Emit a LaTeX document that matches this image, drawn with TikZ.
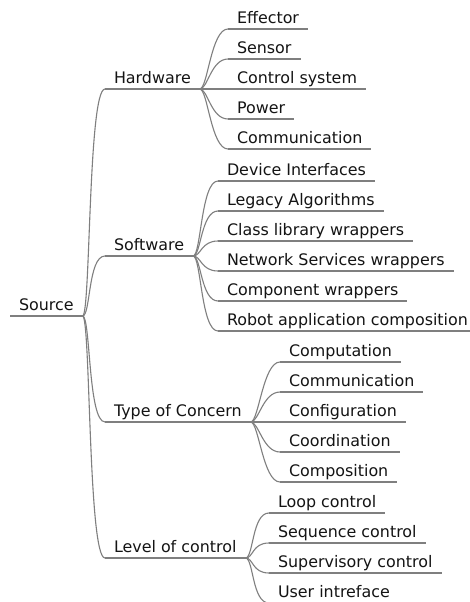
\documentclass[tikz,border=0pt]{standalone}
\usepackage{fontspec}
\setmainfont{DejaVu Sans}
\definecolor{linkgray}{HTML}{7F7F7F}
\definecolor{textdark}{HTML}{141414}
\begin{document}
\begin{tikzpicture}[x=1pt, y=-1pt,
  item/.style={anchor=south west, inner xsep=9pt, inner ysep=0pt, outer sep=0pt,
    text depth=5.5pt, text=textdark, font=\fontsize{15.9}{18}\selectfont},
  link/.style={draw=linkgray, line width=1.1pt},
]
\fill[white] (0,0) rectangle (470,602);
\useasboundingbox (0,0) rectangle (470,602);

% root
\node[item] (src) at (10,316) {Source};

% first level
\node[item] (hw)  at (105,89)  {Hardware};
\node[item] (sw)  at (105,256) {Software};
\node[item] (toc) at (105,422) {Type of Concern};
\node[item] (loc) at (105,558) {Level of control};

% hardware
\node[item] (h1) at (228,29)  {Effector};
\node[item] (h2) at (228,59)  {Sensor};
\node[item] (h3) at (228,89)  {Control system};
\node[item] (h4) at (228,119) {Power};
\node[item] (h5) at (228,149) {Communication};

% software
\node[item] (s1) at (218,181) {Device Interfaces};
\node[item] (s2) at (218,211) {Legacy Algorithms};
\node[item] (s3) at (218,241) {Class library wrappers};
\node[item] (s4) at (218,271) {Network Services wrappers};
\node[item] (s5) at (218,301) {Component wrappers};
\node[item] (s6) at (218,331) {Robot application composition};

% type of concern
\node[item] (t1) at (280,362) {Computation};
\node[item] (t2) at (280,392) {Communication};
\node[item] (t3) at (280,422) {Configuration};
\node[item] (t4) at (280,452) {Coordination};
\node[item] (t5) at (280,482) {Composition};

% level of control
\node[item] (l1) at (269,513) {Loop control};
\node[item] (l2) at (269,543) {Sequence control};
\node[item] (l3) at (269,573) {Supervisory control};
\node[item] (l4) at (269,603) {User intreface};

% underlines
\foreach \n in {src,hw,sw,toc,loc,h1,h2,h3,h4,h5,s1,s2,s3,s4,s5,s6,t1,t2,t3,t4,t5,l1,l2,l3,l4}
  \draw[link] (\n.south west) -- (\n.south east);

% branches
\foreach \a/\b in {src/hw,src/sw,src/toc,src/loc,
                   hw/h1,hw/h2,hw/h3,hw/h4,hw/h5,
                   sw/s1,sw/s2,sw/s3,sw/s4,sw/s5,sw/s6,
                   toc/t1,toc/t2,toc/t3,toc/t4,toc/t5,
                   loc/l1,loc/l2,loc/l3,loc/l4}
  \draw[link] (\a.south east) .. controls +(8,0) and +(-17,0) .. (\b.south west);
\end{tikzpicture}
\end{document}
